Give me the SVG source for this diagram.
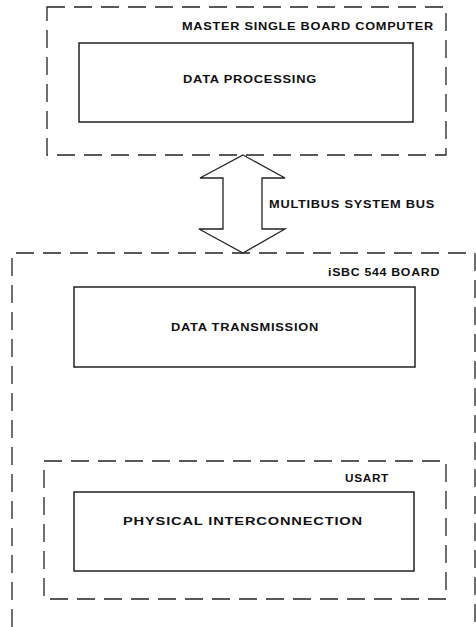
<svg xmlns="http://www.w3.org/2000/svg" width="476" height="627" viewBox="0 0 476 627">
<style>
.bg{fill:#fff}
.dash{fill:none;stroke:#222;stroke-width:1.3;stroke-dasharray:18 9}
.box{fill:none;stroke:#222;stroke-width:1.5}
.lbl{font-family:"Liberation Sans",Arial,sans-serif;font-weight:bold;font-size:10.5px;letter-spacing:0.6px;fill:#111}
.arrow{fill:#fff;stroke:#222;stroke-width:1.3;stroke-linejoin:miter}
</style>
<rect class="bg" x="0" y="0" width="476" height="627"/>
<g id="master">
<rect class="dash" x="47" y="7" width="399" height="148"/>
<text class="lbl" x="182" y="30" textLength="252" lengthAdjust="spacingAndGlyphs">MASTER SINGLE BOARD COMPUTER</text>
</g>
<g id="data-processing">
<rect class="box" x="79" y="43" width="334" height="79"/>
<text class="lbl" x="183" y="83" textLength="134" lengthAdjust="spacingAndGlyphs">DATA PROCESSING</text>
</g>
<g id="isbc544">
<path class="dash" d="M12,627 V253 H475 V627"/>
<text class="lbl" x="328" y="276" textLength="112" lengthAdjust="spacingAndGlyphs">iSBC 544 BOARD</text>
</g>
<g id="data-transmission">
<rect class="box" x="74" y="287" width="341" height="80"/>
<text class="lbl" x="171" y="331" textLength="148" lengthAdjust="spacingAndGlyphs">DATA TRANSMISSION</text>
</g>
<g id="usart">
<rect class="dash" x="44" y="461" width="402" height="138"/>
<text class="lbl" x="345" y="482" textLength="44" lengthAdjust="spacingAndGlyphs">USART</text>
</g>
<g id="physical-interconnection">
<rect class="box" x="74" y="492" width="340" height="79"/>
<text class="lbl" x="123" y="525" textLength="240" lengthAdjust="spacingAndGlyphs">PHYSICAL INTERCONNECTION</text>
</g>
<g id="connectors">
<path class="arrow" d="M243,155 L285,178 L262,178 L262,229 L285,229 L243,253 L199,229 L223,229 L223,178 L200,178 Z"/>
<text class="lbl" x="269" y="208" textLength="166" lengthAdjust="spacingAndGlyphs">MULTIBUS SYSTEM BUS</text>
</g>
</svg>
